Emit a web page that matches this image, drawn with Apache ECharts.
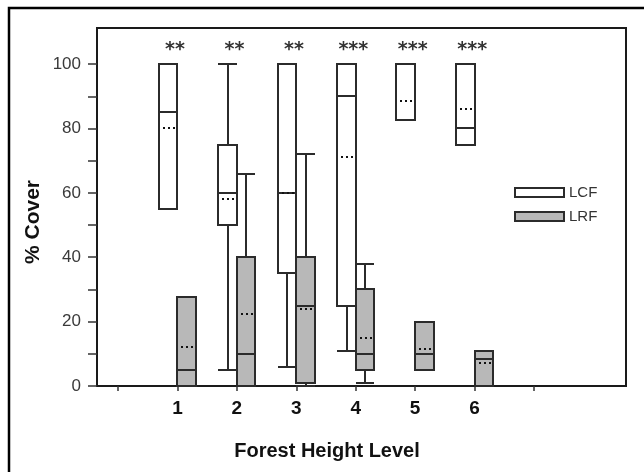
<!DOCTYPE html>
<html><head><meta charset="utf-8">
<script src="https://cdn.jsdelivr.net/npm/echarts@6/dist/echarts.min.js"></script>
<style>html,body{margin:0;padding:0;background:#fff}#c{width:644px;height:472px}</style>
</head><body><div id="c"></div>
<script>
// ---- data ----
const categories = [1, 2, 3, 4, 5, 6];
const lcfLow    = [55, 5, 6, 11, 82.5, 75];
const lcfQ1     = [55, 50, 35, 25, 82.5, 75];
const lcfMedian = [85, 60, 60, 90, 100, 80];
const lcfQ3     = [100, 75, 100, 100, 100, 100];
const lcfHigh   = [100, 100, 100, 100, 100, 100];
const lcfMean   = [80, 58, 60, 71, 88.5, 86];

const lrfLow    = [0, 0, 0, 1, 5, 0];
const lrfQ1     = [0, 0, 1, 5, 5, 0];
const lrfMedian = [5, 10, 25, 10, 10, 8.5];
const lrfQ3     = [27.5, 40, 40, 30, 20, 11];
const lrfHigh   = [27.5, 66, 72, 38, 20, 11];
const lrfMean   = [12, 22.5, 24, 15, 11.5, 7];

const significance = ['**', '**', '**', '***', '***', '***'];
const sigLevel = 106;
const yTickValues = [0, 10, 20, 30, 40, 50, 60, 70, 80, 90, 100];
const yLabelValues = [0, 20, 40, 60, 80, 100];
const xTickValues = [0, 1, 2, 3, 4, 5, 6, 7];
const xLabelValues = [1, 2, 3, 4, 5, 6];

function rows(low, q1, med, q3, high, mean) {
  return categories.map((c, i) => [c, low[i], q1[i], med[i], q3[i], high[i], mean[i]]);
}

const STROKE = '#2b2b2b';
function makeRender(off0, off1, fill) {
  return function (params, api) {
    const c = api.value(0);
    const lo = api.value(1), q1 = api.value(2), med = api.value(3),
          q3 = api.value(4), hi = api.value(5), mean = api.value(6);
    const L = Math.round(api.coord([c + off0, 0])[0]);
    const R = Math.round(api.coord([c + off1, 0])[0]);
    const M = Math.round((L + R) / 2);
    const y = v => Math.round(api.coord([c, v])[1]);
    const ls = { stroke: STROKE, lineWidth: 2 };
    const ch = [];
    if (hi > q3) {
      ch.push({ type: 'line', shape: { x1: M, y1: y(q3), x2: M, y2: y(hi) }, style: ls });
      ch.push({ type: 'line', shape: { x1: L, y1: y(hi), x2: R, y2: y(hi) }, style: ls });
    }
    if (lo < q1) {
      ch.push({ type: 'line', shape: { x1: M, y1: y(q1), x2: M, y2: y(lo) }, style: ls });
      ch.push({ type: 'line', shape: { x1: L, y1: y(lo), x2: R, y2: y(lo) }, style: ls });
    }
    ch.push({ type: 'rect', shape: { x: L, y: y(q3), width: R - L, height: y(q1) - y(q3) },
              style: { fill: fill, stroke: STROKE, lineWidth: 2 } });
    ch.push({ type: 'line', shape: { x1: L, y1: y(med), x2: R, y2: y(med) }, style: ls });
    ch.push({ type: 'line', shape: { x1: L + 4, y1: y(mean), x2: R - 2, y2: y(mean) },
              style: { stroke: '#111', lineWidth: 2, lineDash: [2, 3] } });
    return { type: 'group', children: ch };
  };
}

const chart = echarts.init(document.getElementById('c'));
const FONT = '"Liberation Sans", Arial, sans-serif';
chart.setOption({
  animation: false,
  backgroundColor: '#fff',
  grid: { left: 97, top: 28, right: 18, bottom: 86, show: true, borderColor: '#1a1a1a', borderWidth: 2 },
  xAxis: {
    type: 'value', min: -0.353, max: 8.548,
    axisLine: { show: true, onZero: false, lineStyle: { color: '#1a1a1a', width: 2 } },
    axisTick: { show: true, length: 5, customValues: xTickValues, lineStyle: { color: '#333', width: 1.5 } },
    axisLabel: { customValues: xLabelValues, margin: 13, color: '#111', fontSize: 19, fontWeight: 'bold', fontFamily: FONT },
    splitLine: { show: false }
  },
  yAxis: {
    type: 'value', min: 0, max: 111.2,
    axisLine: { show: true, onZero: false, lineStyle: { color: '#1a1a1a', width: 2 } },
    axisTick: { show: true, length: 9, customValues: yTickValues, lineStyle: { color: '#333', width: 1.5 } },
    axisLabel: { customValues: yLabelValues, margin: 16, color: '#3a3a3a', fontSize: 17, fontFamily: FONT },
    splitLine: { show: false }
  },
  legend: {
    orient: 'vertical', left: 509, top: 180, itemWidth: 49, itemHeight: 9, itemGap: 9,
    textStyle: { fontSize: 15, color: '#333', fontFamily: FONT, padding: [0, 0, 0, 0] },
    data: [
      { name: 'LCF', icon: 'rect', itemStyle: { color: '#fff', borderColor: STROKE, borderWidth: 2 } },
      { name: 'LRF', icon: 'rect', itemStyle: { color: '#b8b8b8', borderColor: STROKE, borderWidth: 2 } }
    ]
  },
  graphic: [
    { type: 'rect', shape: { x: 9, y: 8, width: 700, height: 600 }, style: { fill: null, stroke: '#000', lineWidth: 2.5 }, silent: true },
    { type: 'text', x: 33, y: 222, rotation: Math.PI / 2,
      style: { text: '% Cover', font: 'bold 21px ' + FONT, fill: '#111', textAlign: 'center', textVerticalAlign: 'middle' } },
    { type: 'text', x: 327, y: 451,
      style: { text: 'Forest Height Level', font: 'bold 20px ' + FONT, fill: '#111', textAlign: 'center', textVerticalAlign: 'middle' } }
  ],
  series: [
    { name: 'LCF', type: 'custom', itemStyle: { color: '#fff' }, encode: { x: 0, y: [1, 2, 3, 4, 5, 6] },
      renderItem: makeRender(-0.315, 0, '#fff'), data: rows(lcfLow, lcfQ1, lcfMedian, lcfQ3, lcfHigh, lcfMean) },
    { name: 'LRF', type: 'custom', itemStyle: { color: '#b8b8b8' }, encode: { x: 0, y: [1, 2, 3, 4, 5, 6] },
      renderItem: makeRender(0, 0.31, '#b8b8b8'), data: rows(lrfLow, lrfQ1, lrfMedian, lrfQ3, lrfHigh, lrfMean) },
    { name: 'sig', type: 'custom', silent: true,
      data: categories.map((c, i) => [c, sigLevel, significance[i]]),
      renderItem: function (params, api) {
        const p = api.coord([api.value(0) - 0.04, api.value(1)]);
        return { type: 'text', x: p[0], y: p[1] + 5,
          style: { text: significance[params.dataIndex], font: 'bold 19px "DejaVu Sans", sans-serif', fill: '#333', textAlign: 'center', textVerticalAlign: 'middle' } };
      } }
  ]
});
</script></body></html>
